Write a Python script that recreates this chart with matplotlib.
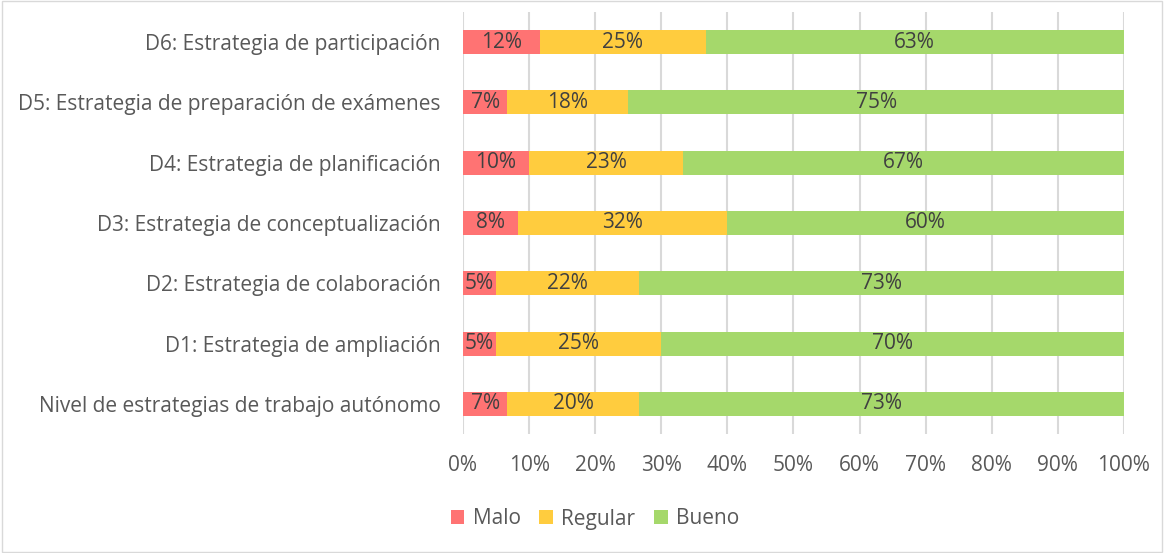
import matplotlib
matplotlib.use("Agg")
import matplotlib.pyplot as plt
from matplotlib.patches import Rectangle

categories = [
    "Nivel de estrategias de trabajo autónomo",
    "D1: Estrategia de ampliación",
    "D2: Estrategia de colaboración",
    "D3: Estrategia de conceptualización",
    "D4: Estrategia de planificación",
    "D5: Estrategia de preparación de exámenes",
    "D6: Estrategia de participación",
]
malo = [6.7, 5.0, 5.0, 8.3, 10.0, 6.7, 11.7]
regular = [20.0, 25.0, 21.7, 31.7, 23.3, 18.3, 25.0]
bueno = [73.3, 70.0, 73.3, 60.0, 66.7, 75.0, 63.3]
series_names = ["Malo", "Regular", "Bueno"]
colors = ["#FF7373", "#FFCC3E", "#A5D86B"]
ticks = list(range(0, 101, 10))

plt.rcParams['font.family'] = ['Open Sans', 'DejaVu Sans']
txt = "#595959"
fs = 15

fig = plt.figure(figsize=(11.64, 5.53), dpi=100)
ax = fig.add_axes([463/1164, 1-434/553, (1124-463)/1164, (434-12)/553])

y = list(range(len(categories)))
left = [0]*len(categories)
for vals, name, c in zip([malo, regular, bueno], series_names, colors):
    ax.barh(y, vals, left=left, height=0.4, color=c, label=name, zorder=3)
    for yi, l, v in zip(y, left, vals):
        ax.text(l + v/2, yi, f"{round(v)}%", ha="center", va="center",
                fontsize=fs, color="#404040", zorder=4)
    left = [a+b for a, b in zip(left, vals)]

ax.set_xlim(0, 100)
ax.set_ylim(-0.5, len(categories)-0.5)
ax.set_xticks(ticks)
ax.set_xticklabels([f"{t}%" for t in ticks], fontsize=fs, color=txt)
ax.set_yticks(y)
ax.set_yticklabels(categories, fontsize=fs, color=txt)
ax.tick_params(axis="both", length=0)
ax.tick_params(axis="y", pad=16)
ax.tick_params(axis="x", pad=15)
ax.grid(axis="x", color="#D9D9D9", linewidth=1.5, zorder=0)
for s in ax.spines.values():
    s.set_visible(False)

leg = fig.legend(loc="center", bbox_to_anchor=(595/1164, 1-519/553), ncol=3,
                 frameon=False, fontsize=fs, handlelength=0.65, handleheight=0.65,
                 handletextpad=0.4, columnspacing=0.9)
for t in leg.get_texts():
    t.set_color(txt)

fig.patches.append(Rectangle((0.002, 0.002), 0.996, 0.996, transform=fig.transFigure,
                             fill=False, edgecolor="#D9D9D9", linewidth=1))
fig.savefig("out.png", dpi=100)
